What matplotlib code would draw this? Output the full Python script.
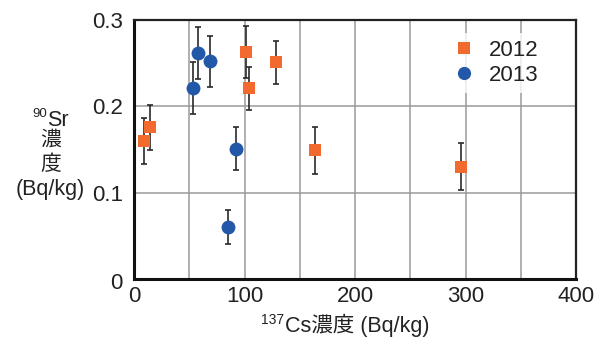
import matplotlib
matplotlib.use("Agg")
import matplotlib.pyplot as plt
from matplotlib.lines import Line2D

plt.rcParams['font.family'] = ['Liberation Sans', 'Noto Sans CJK JP', 'DejaVu Sans']

# 2012 data (orange squares)
cs_2012 = [9, 14.5, 101, 104, 128.5, 164, 296]
sr_2012 = [0.160, 0.176, 0.263, 0.221, 0.251, 0.149, 0.130]
err_2012 = [0.027, 0.026, 0.030, 0.025, 0.025, 0.027, 0.027]

# 2013 data (blue circles)
cs_2013 = [53.5, 58, 69, 92, 85]
sr_2013 = [0.221, 0.262, 0.252, 0.151, 0.060]
err_2013 = [0.030, 0.030, 0.030, 0.025, 0.020]

series_labels = ['2012', '2013']
x_ticks = [0, 100, 200, 300, 400]
y_ticks = [0, 0.1, 0.2, 0.3]
y_tick_labels = ['0', '0.1', '0.2', '0.3']

ORANGE = '#F26A2E'
BLUE = '#2357A8'
TXT = '#222222'

W, H = 607, 338
fig = plt.figure(figsize=(W / 100, H / 100), dpi=100)
ax = fig.add_axes([134 / W, 1 - 279 / H, (576 - 134) / W, (279 - 20) / H])

ax.set_xlim(0, 400)
ax.set_ylim(0, 0.3)
ax.grid(True, color='#9a9a9a', linewidth=1.1)
ax.set_axisbelow(True)

grid_x = list(range(0, 401, 50))
ax.set_xticks(grid_x)
ax.set_xticklabels([str(v) if v in x_ticks else '' for v in grid_x], fontsize=16, color=TXT)
ax.set_yticks(y_ticks)
ax.set_yticklabels(y_tick_labels, fontsize=16, color=TXT)
ax.tick_params(length=0)
ax.tick_params(axis='x', pad=5)
ax.tick_params(axis='y', pad=8)
ylabels = ax.get_yticklabels()
ylabels[0].set_transform(ylabels[0].get_transform() + matplotlib.transforms.ScaledTranslation(0, -2 / 100, fig.dpi_scale_trans))

for s in ['left', 'bottom']:
    ax.spines[s].set_linewidth(2.2)
    ax.spines[s].set_color('#111111')
for s in ['top', 'right']:
    ax.spines[s].set_linewidth(1.6)
    ax.spines[s].set_color('#222222')

ekw = dict(ecolor='#2a2a2a', elinewidth=1.2, capsize=2.4, capthick=1.2, linestyle='none')
ax.errorbar(cs_2012, sr_2012, yerr=err_2012, fmt='none', zorder=3, **ekw)
ax.errorbar(cs_2013, sr_2013, yerr=err_2013, fmt='none', zorder=3, **ekw)
ax.plot(cs_2012, sr_2012, 's', color=ORANGE, markersize=9.3, markeredgewidth=0, zorder=4)
ax.plot(cs_2013, sr_2013, 'o', color=BLUE, markersize=10, markeredgewidth=0, zorder=4)

handles = [Line2D([], [], marker='s', color=ORANGE, linestyle='none', markersize=9, markeredgewidth=0),
           Line2D([], [], marker='o', color=BLUE, linestyle='none', markersize=9.5, markeredgewidth=0)]
leg = ax.legend(handles, series_labels, loc='upper right', bbox_to_anchor=(0.955, 0.993),
                frameon=True, fontsize=16, handlelength=1.0, handletextpad=0.6,
                labelspacing=0.2, borderpad=0.3, fancybox=False)
leg.get_frame().set_facecolor('white')
leg.get_frame().set_edgecolor('none')
for t in leg.get_texts():
    t.set_color(TXT)

def ftxt(x, y, s, **kw):
    fig.text(x / W, 1 - y / H, s, **kw)

# x label
ftxt(284, 324, '137', fontsize=10, ha='right', va='baseline', color=TXT)
ftxt(285, 332, 'Cs濃度 (Bq/kg)', fontsize=15.5, ha='left', va='baseline', color=TXT)

# y label
ftxt(47, 117, '90', fontsize=9.5, ha='right', va='baseline', color=TXT)
ftxt(47.5, 126, 'Sr', fontsize=15.5, ha='left', va='baseline', color=TXT)
ftxt(51, 140, '濃', fontsize=15, ha='center', va='center', color=TXT)
ftxt(51, 164, '度', fontsize=15, ha='center', va='center', color=TXT)
ftxt(50, 195, '(Bq/kg)', fontsize=15.5, ha='center', va='baseline', color=TXT)

fig.savefig('out.png', dpi=100)
